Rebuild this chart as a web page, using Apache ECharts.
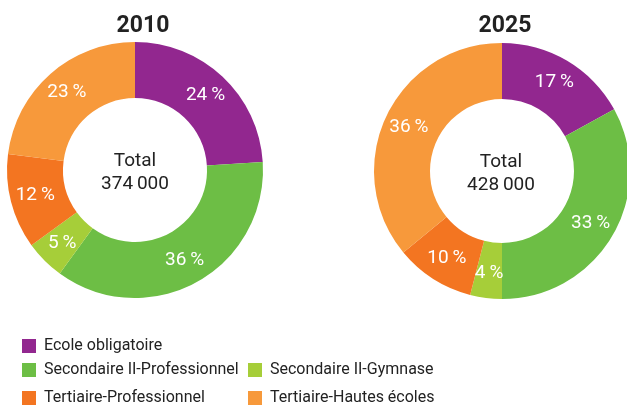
<!DOCTYPE html>
<html>
<head>
<meta charset="utf-8">
<script src="https://cdn.jsdelivr.net/npm/echarts@6/dist/echarts.min.js"></script>
<style>
html,body{margin:0;padding:0;background:#fff;}
#c{width:627px;height:409px;}
</style>
</head>
<body>
<div id="c"></div>
<script>
var categories = ['Ecole obligatoire', 'Secondaire II-Professionnel', 'Secondaire II-Gymnase', 'Tertiaire-Professionnel', 'Tertiaire-Hautes écoles'];
var values2010 = [24, 36, 5, 12, 23];
var values2025 = [17, 33, 4, 10, 36];
var years = ['2010', '2025'];
var totals = ['374\u2009000', '428\u2009000'];
var colors = ['#92278f', '#6dbe45', '#a6ce39', '#f37521', '#f7993b'];

var FONT = '"Liberation Sans Narrow", "Roboto", "Liberation Sans", sans-serif';

function pieSeries(name, vals, center) {
  return {
    type: 'pie',
    name: name,
    center: center,
    radius: [72, 128],
    startAngle: 90,
    clockwise: true,
    avoidLabelOverlap: false,
    animation: false,
    label: {
      show: true,
      position: 'inside',
      formatter: '{c}\u2009%',
      color: '#ffffff',
      fontFamily: FONT,
      fontSize: 19
    },
    labelLine: { show: false },
    emphasis: { disabled: true },
    data: categories.map(function (c, i) {
      return { name: c, value: vals[i], itemStyle: { color: colors[i] } };
    })
  };
}

// legend slot: [category index, left, top]
var legendSlots = [[0, 22, 338], [1, 22, 362], [3, 22, 390], [2, 248, 362], [4, 248, 390]];

var chart = echarts.init(document.getElementById('c'), null, { renderer: 'canvas' });
chart.setOption({
  backgroundColor: '#ffffff',
  animation: false,
  color: colors,
  title: [
    { text: years[0], left: 138, top: 10, textAlign: 'center',
      textStyle: { fontFamily: FONT, fontSize: 23, fontWeight: 'bold', color: '#222222' } },
    { text: years[1], left: 500, top: 10, textAlign: 'center',
      textStyle: { fontFamily: FONT, fontSize: 23, fontWeight: 'bold', color: '#222222' } }
  ],
  legend: legendSlots.map(function (s) {
    return {
      orient: 'horizontal', left: s[1], top: s[2], padding: 0,
      data: [categories[s[0]]],
      icon: 'rect', itemWidth: 14, itemHeight: 14,
      selectedMode: false,
      textStyle: { fontFamily: FONT, fontSize: 16, color: '#222222', lineHeight: 16, padding: [0, 0, 0, 3] }
    };
  }),
  graphic: [
    { type: 'text', x: 135, y: 173, style: {
        text: 'Total\n' + totals[0], textAlign: 'center', textVerticalAlign: 'middle',
        fontFamily: FONT, fontSize: 19, lineHeight: 23, fill: '#222222' } },
    { type: 'text', x: 501, y: 174, style: {
        text: 'Total\n' + totals[1], textAlign: 'center', textVerticalAlign: 'middle',
        fontFamily: FONT, fontSize: 19, lineHeight: 23, fill: '#222222' } }
  ],
  series: [
    pieSeries(years[0], values2010, [135, 170]),
    pieSeries(years[1], values2025, [502, 171])
  ]
});
</script>
</body>
</html>
